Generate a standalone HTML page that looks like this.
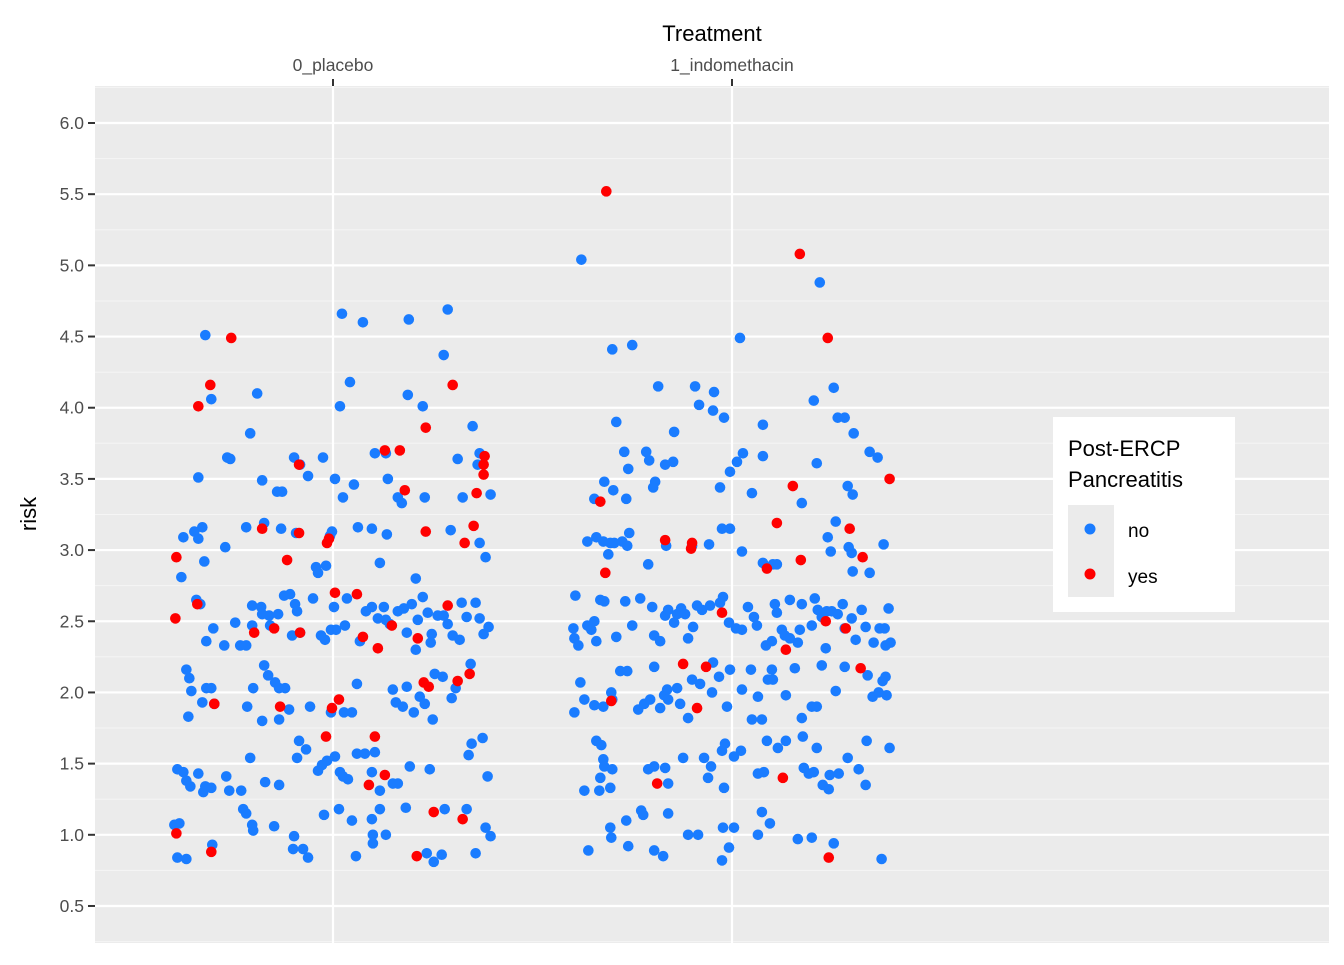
<!DOCTYPE html>
<html><head><meta charset="utf-8"><style>
body{margin:0;background:#fff;}
svg text{font-family:"Liberation Sans",Arial,sans-serif;}
</style></head><body>
<svg id="chart" width="1344" height="960" xmlns="http://www.w3.org/2000/svg">
<rect x="0" y="0" width="1344" height="960" fill="#fff"/>
<rect x="95" y="86" width="1234" height="857" fill="#ebebeb"/>
<g id="grid"></g>
<g id="axes"></g>
<g id="points"></g>
<text x="712" y="41" text-anchor="middle" font-size="22" fill="#000">Treatment</text>
<text transform="translate(36,514) rotate(-90)" text-anchor="middle" font-size="22" fill="#000">risk</text>
<g>
<rect x="1053" y="417" width="182" height="195" fill="#fff"/>
<text x="1068" y="456" font-size="22">Post-ERCP</text>
<text x="1068" y="487" font-size="22">Pancreatitis</text>
<rect x="1068" y="505" width="46" height="92" fill="#ebebeb"/>
<circle cx="1090" cy="529" r="5.5" fill="#1a7cff"/>
<circle cx="1090" cy="574" r="5.5" fill="#ff0000"/>
<text x="1128" y="537" font-size="19">no</text>
<text x="1128" y="583" font-size="19">yes</text>
</g>
</svg>
<script>
const categories = ["0_placebo", "1_indomethacin"];
const yTicks = [0.5,1.0,1.5,2.0,2.5,3.0,3.5,4.0,4.5,5.0,5.5,6.0];
// [jitter (1/400 of category spacing), risk]
const placeboNo = [[-128,4.51],[-122,4.06],[-76,4.10],[-83,3.82],[-106,3.65],[-103,3.64],[-135,3.51],[9,4.66],[30,4.60],[76,4.62],[115,4.69],[111,4.37],[17,4.18],[7,4.01],[75,4.09],[90,4.01],[140,3.87],[-10,3.65],[-39,3.65],[-33,3.60],[-25,3.52],[2,3.50],[21,3.46],[10,3.37],[-71,3.49],[-56,3.41],[-51,3.41],[42,3.68],[53,3.68],[55,3.50],[65,3.37],[69,3.33],[92,3.37],[125,3.64],[145,3.60],[130,3.37],[158,3.39],[147,3.68],[118,3.14],[153,2.95],[147,3.05],
[-150,3.09],[-139,3.13],[-135,3.08],[-131,3.16],[-129,2.92],[-108,3.02],[-87,3.16],[-69,3.19],[-52,3.15],[-37,3.12],[-7,2.89],[-3,3.10],[-1,3.13],[25,3.16],[39,3.15],[54,3.11],[47,2.91],[83,2.80],[-152,2.81],
[-137,2.65],[-133,2.62],[-120,2.45],[-127,2.36],[-109,2.33],[-98,2.49],[-93,2.33],[-81,2.61],[-72,2.60],[-71,2.55],[-64,2.54],[-49,2.68],[-43,2.69],[-38,2.62],[-36,2.57],[-55,2.55],[-41,2.40],[-33,2.42],[-20,2.66],[-17,2.88],[-15,2.84],[-12,2.40],[-8,2.37],[-2,2.44],[1,2.60],[3,2.44],[14,2.66],[12,2.47],[27,2.36],[33,2.57],[39,2.60],[45,2.52],[51,2.60],[53,2.51],[57,2.48],[65,2.57],[71,2.59],[74,2.42],[79,2.62],[85,2.51],[90,2.67],[95,2.56],[99,2.41],[105,2.54],[111,2.54],[115,2.48],[120,2.40],[127,2.37],[129,2.63],[134,2.53],[143,2.63],[147,2.52],[151,2.41],[156,2.46],[83,2.30],[98,2.35],[-81,2.47],[-87,2.33],[-63,2.47],
[-147,2.16],[-144,2.10],[-142,2.01],[-145,1.83],[-131,1.93],[-127,2.03],[-122,2.03],[-119,1.92],[-86,1.90],[-80,2.03],[-69,2.19],[-65,2.12],[-58,2.07],[-54,2.03],[-48,2.03],[-71,1.80],[-54,1.81],[-44,1.88],[-23,1.90],[-2,1.86],[11,1.86],[19,1.86],[24,2.06],[60,2.02],[63,1.93],[70,1.90],[74,2.04],[81,1.86],[87,1.97],[92,1.92],[100,1.81],[102,2.13],[110,2.11],[119,1.96],[123,2.03],[138,2.20],
[-156,1.46],[-150,1.44],[-147,1.38],[-143,1.34],[-135,1.43],[-130,1.30],[-128,1.34],[-122,1.33],[-107,1.41],[-104,1.31],[-92,1.31],[-83,1.54],[-68,1.37],[-54,1.35],[-34,1.66],[-36,1.54],[-27,1.60],[-11,1.49],[-6,1.52],[2,1.55],[7,1.44],[10,1.41],[15,1.39],[24,1.57],[32,1.57],[39,1.44],[42,1.58],[47,1.31],[60,1.36],[65,1.36],[77,1.48],[97,1.46],[136,1.56],[139,1.64],[150,1.68],[155,1.41],[-15,1.45],
[-159,1.07],[-154,1.08],[-156,0.84],[-147,0.83],[-121,0.93],[-90,1.18],[-87,1.15],[-81,1.07],[-80,1.03],[-59,1.06],[-39,0.99],[-40,0.90],[-30,0.90],[-25,0.84],[-9,1.14],[6,1.18],[19,1.10],[23,0.85],[40,0.94],[40,1.00],[39,1.11],[47,1.18],[53,1.00],[73,1.19],[94,0.87],[101,0.81],[109,0.86],[112,1.18],[134,1.18],[143,0.87],[153,1.05],[158,0.99]];
const placeboYes = [[-158,2.52],[-157,1.01],[-157,2.95],[-135,4.01],[-123,4.16],[-102,4.49],[-122,0.88],[-136,2.62],[-119,1.92],[-79,2.42],[-71,3.15],[-59,2.45],[-53,1.90],[-46,2.93],[-34,3.12],[-34,3.60],[-33,2.42],[-7,1.69],[-6,3.05],[-4,3.08],[-1,1.89],[2,2.70],[6,1.95],[24,2.69],[30,2.39],[36,1.35],[42,1.69],[45,2.31],[52,3.70],[52,1.42],[59,2.47],[67,3.70],[72,3.42],[84,0.85],[85,2.38],[91,2.07],[93,3.86],[93,3.13],[96,2.04],[101,1.16],[115,2.61],[120,4.16],[125,2.08],[130,1.11],[132,3.05],[137,2.13],[141,3.17],[144,3.40],[151,3.53],[152,3.66],[151,3.60]];
const indoNo = [[-151,5.04],[-120,4.41],[-100,4.44],[-74,4.15],[-37,4.15],[-33,4.02],[-19,3.98],[-18,4.11],[-8,3.93],[8,4.49],[88,4.88],[102,4.14],[82,4.05],[106,3.93],[113,3.93],[122,3.82],[-116,3.90],[-108,3.69],[-86,3.69],[-83,3.63],[-77,3.48],[-79,3.44],[-104,3.57],[-106,3.36],[-128,3.48],[-138,3.36],[-119,3.42],[-67,3.60],[-59,3.62],[-58,3.83],[-12,3.44],[-2,3.55],[5,3.62],[11,3.68],[20,3.40],[31,3.66],[31,3.88],[85,3.61],[70,3.33],[116,3.45],[121,3.39],[138,3.69],[146,3.65],
[-145,3.06],[-136,3.09],[-129,3.06],[-118,3.05],[-110,3.06],[-103,3.12],[-105,3.03],[-84,2.90],[-66,3.03],[-40,3.03],[-23,3.04],[-10,3.15],[-2,3.15],[10,2.99],[31,2.91],[41,2.90],[45,2.90],[96,3.09],[99,2.99],[104,3.20],[117,3.02],[120,2.98],[121,2.85],[138,2.84],[152,3.04],[-122,3.05],[-124,2.97],
[-157,2.68],[-159,2.45],[-158,2.38],[-154,2.33],[-145,2.47],[-141,2.44],[-138,2.50],[-136,2.36],[-132,2.65],[-128,2.64],[-116,2.39],[-107,2.64],[-100,2.47],[-92,2.66],[-80,2.60],[-78,2.40],[-72,2.36],[-67,2.54],[-64,2.58],[-58,2.49],[-55,2.55],[-51,2.59],[-47,2.55],[-44,2.38],[-39,2.46],[-35,2.61],[-30,2.58],[-22,2.61],[-12,2.63],[-9,2.67],[-3,2.49],[4,2.45],[10,2.44],[16,2.60],[22,2.53],[25,2.47],[34,2.33],[40,2.36],[45,2.56],[50,2.44],[53,2.40],[58,2.38],[66,2.35],[70,2.62],[80,2.47],[83,2.66],[86,2.58],[90,2.53],[95,2.57],[100,2.57],[106,2.55],[111,2.62],[120,2.52],[124,2.37],[130,2.58],[134,2.46],[142,2.35],[148,2.45],[154,2.33],[157,2.59],[153,2.45],[159,2.35],[43,2.62],[58,2.65],[68,2.44],[94,2.31],[113,2.45],
[-158,1.86],[-152,2.07],[-148,1.95],[-138,1.91],[-129,1.90],[-121,2.00],[-120,1.95],[-112,2.15],[-105,2.15],[-94,1.88],[-88,1.92],[-82,1.95],[-78,2.18],[-72,1.89],[-68,1.98],[-65,2.02],[-64,1.95],[-55,2.03],[-52,1.92],[-44,1.82],[-40,2.09],[-32,2.06],[-20,2.00],[-19,2.21],[-13,2.11],[-5,1.90],[-2,2.16],[10,2.02],[19,2.16],[20,1.81],[26,1.97],[30,1.81],[36,2.09],[40,2.16],[41,2.09],[54,1.98],[63,2.17],[70,1.82],[80,1.90],[85,1.90],[90,2.19],[104,2.01],[113,2.18],[136,2.12],[141,1.97],[147,2.00],[151,2.08],[154,2.11],[155,1.98],
[-148,1.31],[-136,1.66],[-132,1.40],[-131,1.63],[-129,1.53],[-128,1.48],[-120,1.46],[-133,1.31],[-122,1.33],[-84,1.46],[-78,1.48],[-67,1.47],[-64,1.36],[-49,1.54],[-28,1.54],[-24,1.40],[-21,1.48],[-10,1.59],[-7,1.64],[-8,1.33],[2,1.55],[9,1.59],[26,1.43],[32,1.44],[35,1.66],[46,1.61],[54,1.66],[71,1.69],[72,1.47],[82,1.44],[85,1.61],[91,1.35],[97,1.32],[98,1.42],[107,1.43],[116,1.54],[127,1.46],[134,1.35],[135,1.66],[158,1.61],[77,1.43],
[-144,0.89],[-122,1.05],[-121,0.98],[-106,1.10],[-104,0.92],[-91,1.17],[-89,1.14],[-78,0.89],[-69,0.85],[-64,1.15],[-44,1.00],[-34,1.00],[-10,0.82],[-9,1.05],[-3,0.91],[2,1.05],[26,1.00],[30,1.16],[38,1.08],[66,0.97],[80,0.98],[102,0.94],[150,0.83]];
const indoYes = [[-126,5.52],[-132,3.34],[-127,2.84],[-121,1.94],[-75,1.36],[-67,3.07],[-49,2.20],[-40,3.05],[-41,3.01],[-35,1.89],[-26,2.18],[-10,2.56],[35,2.87],[45,3.19],[51,1.40],[54,2.30],[61,3.45],[68,5.08],[69,2.93],[94,2.50],[96,4.49],[97,0.84],[114,2.45],[118,3.15],[129,2.17],[131,2.95],[158,3.50]];

const NS = "http://www.w3.org/2000/svg";
const P = {l:95, r:1329, t:86, b:943};
function yScale(v){ return 123 + (6.0 - v) * 142.36; }
function xScale(c){ return 333 + c * 399; }
function mk(tag, attrs, parent){ const e=document.createElementNS(NS,tag); for(const k in attrs) e.setAttribute(k,attrs[k]); parent.appendChild(e); return e; }

const grid=document.getElementById('grid'), axes=document.getElementById('axes'), pts=document.getElementById('points');
// minor gridlines
for(let i=0;i<yTicks.length+1;i++){
  const v = yTicks[0]-0.25 + i*0.5;
  const y=yScale(v);
  if(y<P.t||y>P.b) continue;
  const ln=mk('line',{x1:P.l,x2:P.r,y1:y,y2:y,stroke:'#f5f5f5','stroke-width':1},grid);
  
  
}
yTicks.forEach(v=>{
  const y=yScale(v);
  const ln=mk('line',{x1:P.l,x2:P.r,y1:y,y2:y,stroke:'#fff','stroke-width':2.2},grid);
  
  
  const t=mk('line',{x1:88,x2:95,y1:y,y2:y,stroke:'#333','stroke-width':2},axes);
  
  
  const tx=mk('text',{x:84,y:y+6,'text-anchor':'end','font-size':17.5,fill:'#4d4d4d'},axes);
  tx.textContent=v.toFixed(1);
  
  
});
categories.forEach((c,i)=>{
  const x=xScale(i);
  const ln=mk('line',{x1:x,x2:x,y1:P.t,y2:P.b,stroke:'#fff','stroke-width':2.2},grid);
  
  
  const t=mk('line',{x1:x,x2:x,y1:79,y2:86,stroke:'#333','stroke-width':2},axes);
  
  
  const tx=mk('text',{x:x,y:71,'text-anchor':'middle','font-size':17.5,fill:'#4d4d4d'},axes);
  tx.textContent=c;
  
  
});
function draw(data, cat, color, name){
  data.forEach(d=>{
    const c=mk('circle',{cx:xScale(cat + d[0]/400), cy:yScale(d[1]), r:5.3, fill:color},pts);
    
    
  });
}
draw(placeboNo,0,'#1a7cff','point-placebo-no');
draw(indoNo,1,'#1a7cff','point-indomethacin-no');
draw(placeboYes,0,'#ff0000','point-placebo-yes');
draw(indoYes,1,'#ff0000','point-indomethacin-yes');
</script>
</body></html>
